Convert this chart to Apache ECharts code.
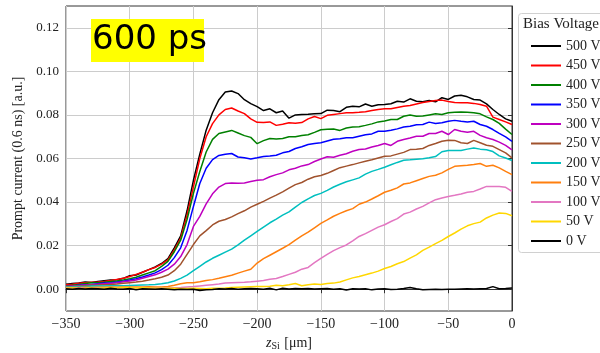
<!DOCTYPE html>
<html>
<head>
<meta charset="utf-8">
<script src="https://cdn.jsdelivr.net/npm/echarts@6/dist/echarts.min.js"></script>
<style>
html,body{margin:0;padding:0;background:#fff;}
#c{width:600px;height:353px;}
</style>
</head>
<body>
<div id="c"></div>
<script>
const z = [-350,-345,-340,-335,-330,-325,-320,-315,-310,-305,
  -300,-295,-290,-285,-280,-275,-270,-265,-260,-255,
  -250,-245,-240,-235,-230,-225,-220,-215,-210,-205,
  -200,-195,-190,-185,-180,-175,-170,-165,-160,-155,
  -150,-145,-140,-135,-130,-125,-120,-115,-110,-105,
  -100,-95,-90,-85,-80,-75,-70,-65,-60,-55,
  -50,-45,-40,-35,-30,-25,-20,-15,-10,-5,0];

const v500 = [0.0023,0.0026,0.0029,0.0033,0.0031,0.0035,0.0039,0.0042,0.0043,0.0050,
  0.0062,0.0065,0.0078,0.0090,0.0102,0.0118,0.0140,0.0190,0.0245,0.0360,
  0.0500,0.0620,0.0730,0.0810,0.0870,0.0905,0.0910,0.0898,0.0870,0.0852,
  0.0838,0.0820,0.0828,0.0810,0.0818,0.0785,0.0800,0.0802,0.0803,0.0805,
  0.0806,0.0822,0.0820,0.0815,0.0835,0.0840,0.0837,0.0850,0.0840,0.0847,
  0.0848,0.0851,0.0863,0.0859,0.0874,0.0863,0.0860,0.0866,0.0860,0.0879,
  0.0871,0.0887,0.0890,0.0883,0.0871,0.0868,0.0851,0.0825,0.0802,0.0782,0.0771];
const v450 = [0.0020,0.0023,0.0027,0.0030,0.0032,0.0033,0.0036,0.0040,0.0045,0.0050,
  0.0058,0.0068,0.0078,0.0090,0.0100,0.0115,0.0135,0.0180,0.0235,0.0340,
  0.0470,0.0600,0.0700,0.0760,0.0800,0.0825,0.0832,0.0818,0.0806,0.0782,
  0.0766,0.0765,0.0768,0.0752,0.0757,0.0764,0.0762,0.0765,0.0782,0.0793,
  0.0783,0.0798,0.0802,0.0806,0.0810,0.0810,0.0812,0.0815,0.0820,0.0825,
  0.0828,0.0828,0.0834,0.0840,0.0843,0.0850,0.0857,0.0862,0.0866,0.0868,
  0.0862,0.0857,0.0856,0.0856,0.0853,0.0848,0.0840,0.0790,0.0779,0.0768,0.0756];
const v400 = [0.0015,0.0018,0.0022,0.0026,0.0030,0.0030,0.0032,0.0035,0.0038,0.0042,
  0.0048,0.0055,0.0065,0.0075,0.0085,0.0105,0.0128,0.0172,0.0225,0.0320,
  0.0440,0.0540,0.0630,0.0688,0.0715,0.0722,0.0729,0.0717,0.0705,0.0697,
  0.0668,0.0682,0.0692,0.0690,0.0692,0.0700,0.0700,0.0706,0.0709,0.0720,
  0.0732,0.0734,0.0735,0.0729,0.0740,0.0745,0.0746,0.0752,0.0759,0.0768,
  0.0772,0.0779,0.0779,0.0794,0.0800,0.0794,0.0795,0.0800,0.0805,0.0802,
  0.0810,0.0812,0.0814,0.0812,0.0810,0.0805,0.0791,0.0779,0.0761,0.0735,0.0710];
const v350 = [0.0012,0.0015,0.0018,0.0020,0.0022,0.0025,0.0028,0.0030,0.0033,0.0037,
  0.0042,0.0048,0.0056,0.0065,0.0075,0.0090,0.0110,0.0145,0.0190,0.0270,
  0.0380,0.0485,0.0555,0.0595,0.0614,0.0620,0.0623,0.0607,0.0603,0.0598,
  0.0603,0.0609,0.0611,0.0615,0.0626,0.0632,0.0646,0.0654,0.0664,0.0669,
  0.0672,0.0680,0.0688,0.0691,0.0695,0.0695,0.0702,0.0709,0.0713,0.0725,
  0.0725,0.0730,0.0736,0.0745,0.0748,0.0755,0.0756,0.0767,0.0761,0.0764,
  0.0771,0.0775,0.0771,0.0768,0.0771,0.0756,0.0748,0.0733,0.0715,0.0699,0.0679];
const v300 = [0.0013,0.0015,0.0017,0.0019,0.0021,0.0023,0.0025,0.0027,0.0030,0.0034,
  0.0038,0.0042,0.0050,0.0058,0.0066,0.0078,0.0092,0.0115,0.0150,0.0205,
  0.0288,0.0334,0.0392,0.0438,0.0469,0.0485,0.0488,0.0486,0.0488,0.0494,
  0.0500,0.0503,0.0516,0.0526,0.0534,0.0548,0.0555,0.0566,0.0572,0.0586,
  0.0598,0.0608,0.0606,0.0615,0.0622,0.0633,0.0641,0.0644,0.0653,0.0660,
  0.0669,0.0660,0.0679,0.0687,0.0694,0.0702,0.0702,0.0715,0.0715,0.0725,
  0.0710,0.0733,0.0725,0.0721,0.0725,0.0706,0.0695,0.0687,0.0675,0.0660,0.0640];
const v250 = [0.0012,0.0013,0.0015,0.0016,0.0018,0.0019,0.0021,0.0022,0.0024,0.0027,
  0.0030,0.0033,0.0037,0.0042,0.0048,0.0055,0.0065,0.0085,0.0115,0.0160,
  0.0205,0.0245,0.0269,0.0295,0.0312,0.0320,0.0332,0.0347,0.0360,0.0377,
  0.0390,0.0403,0.0418,0.0432,0.0447,0.0464,0.0480,0.0490,0.0505,0.0516,
  0.0522,0.0532,0.0545,0.0558,0.0565,0.0572,0.0580,0.0587,0.0594,0.0602,
  0.0610,0.0612,0.0620,0.0628,0.0641,0.0643,0.0646,0.0660,0.0669,0.0679,
  0.0684,0.0683,0.0672,0.0669,0.0683,0.0672,0.0661,0.0656,0.0641,0.0626,0.0603];
const v200 = [0.0010,0.0011,0.0012,0.0013,0.0015,0.0015,0.0015,0.0016,0.0016,0.0016,
  0.0017,0.0018,0.0019,0.0020,0.0022,0.0025,0.0030,0.0038,0.0050,0.0065,
  0.0085,0.0105,0.0125,0.0142,0.0156,0.0170,0.0184,0.0204,0.0225,0.0245,
  0.0265,0.0285,0.0305,0.0322,0.0340,0.0355,0.0377,0.0398,0.0415,0.0430,
  0.0440,0.0454,0.0469,0.0482,0.0493,0.0502,0.0511,0.0528,0.0541,0.0550,
  0.0560,0.0571,0.0582,0.0592,0.0594,0.0597,0.0599,0.0603,0.0609,0.0631,
  0.0637,0.0637,0.0637,0.0643,0.0648,0.0643,0.0640,0.0632,0.0612,0.0602,0.0591];
const v150 = [0.0008,0.0008,0.0008,0.0009,0.0008,0.0009,0.0009,0.0010,0.0009,0.0010,
  0.0010,0.0010,0.0010,0.0011,0.0010,0.0010,0.0012,0.0018,0.0025,0.0030,
  0.0030,0.0034,0.0040,0.0044,0.0050,0.0057,0.0064,0.0074,0.0083,0.0092,
  0.0120,0.0140,0.0156,0.0172,0.0188,0.0205,0.0225,0.0245,0.0262,0.0282,
  0.0302,0.0318,0.0335,0.0348,0.0360,0.0370,0.0390,0.0400,0.0414,0.0429,
  0.0445,0.0454,0.0465,0.0483,0.0488,0.0498,0.0508,0.0518,0.0523,0.0534,
  0.0550,0.0564,0.0567,0.0569,0.0572,0.0577,0.0564,0.0569,0.0557,0.0541,0.0526];
const v100 = [0.0005,0.0005,0.0006,0.0005,0.0005,0.0006,0.0005,0.0005,0.0006,0.0005,
  0.0005,0.0005,0.0005,0.0005,0.0005,0.0005,0.0006,0.0007,0.0008,0.0010,
  0.0012,0.0015,0.0018,0.0021,0.0024,0.0028,0.0030,0.0031,0.0032,0.0034,
  0.0037,0.0040,0.0046,0.0049,0.0058,0.0068,0.0078,0.0092,0.0100,0.0122,
  0.0142,0.0160,0.0177,0.0191,0.0203,0.0222,0.0242,0.0255,0.0270,0.0285,
  0.0296,0.0311,0.0324,0.0345,0.0354,0.0368,0.0380,0.0396,0.0411,0.0419,
  0.0426,0.0431,0.0437,0.0445,0.0449,0.0460,0.0472,0.0472,0.0472,0.0468,0.0449];
const v50 = [0.0005,0.0006,0.0003,0.0004,0.0006,0.0005,0.0006,0.0007,0.0006,0.0008,
  0.0007,0.0006,0.0007,0.0006,0.0005,0.0004,0.0005,0.0004,0.0003,0.0003,
  0.0004,0.0003,0.0002,0.0004,0.0005,0.0006,0.0008,0.0009,0.0010,0.0011,
  0.0012,0.0013,0.0014,0.0018,0.0016,0.0020,0.0026,0.0016,0.0020,0.0024,
  0.0022,0.0026,0.0028,0.0033,0.0043,0.0052,0.0058,0.0066,0.0074,0.0083,
  0.0095,0.0104,0.0117,0.0127,0.0143,0.0158,0.0178,0.0193,0.0209,0.0224,
  0.0242,0.0258,0.0276,0.0291,0.0301,0.0308,0.0327,0.0340,0.0350,0.0348,0.0337];
const v0 = [0.0002,0.0000,0.0003,0.0001,0.0003,0.0002,0.0000,0.0004,0.0001,0.0000,
  0.0003,-0.0003,0.0002,0.0001,0.0000,0.0002,0.0000,-0.0002,0.0000,-0.0001,
  0.0000,-0.0006,-0.0002,-0.0001,0.0002,0.0001,0.0003,0.0000,0.0002,0.0003,
  0.0002,0.0000,0.0004,-0.0003,0.0004,0.0001,0.0003,0.0002,0.0003,0.0001,
  0.0002,0.0003,0.0000,0.0002,-0.0004,0.0002,0.0001,0.0002,-0.0003,0.0001,
  0.0002,-0.0001,0.0000,0.0003,0.0008,0.0002,-0.0002,-0.0001,0.0000,-0.0001,
  0.0000,0.0000,0.0001,0.0002,0.0001,0.0002,0.0003,0.0012,0.0002,0.0003,0.0006];

const seriesNames = ['500 V','450 V','400 V','350 V','300 V','250 V','200 V','150 V','100 V','50 V','0 V'];
const seriesValues = [v500,v450,v400,v350,v300,v250,v200,v150,v100,v50,v0];
const seriesColors = ['#000000','#ff0000','#008000','#0000ff','#bf00bf','#a0522d','#00bfbf','#ff7f0e','#e377c2','#ffd700','#000000'];
const yTicks = [0.00,0.02,0.04,0.06,0.08,0.10,0.12];
const xTicks = [-350,-300,-250,-200,-150,-100,-50,0];

const SERIF = '"Liberation Serif","DejaVu Serif",serif';
const chart = echarts.init(document.getElementById('c'), null, {renderer:'canvas'});

const fmtX = v => v < 0 ? '\u2212' + Math.abs(v) : String(v);

const option = {
  animation:false,
  backgroundColor:'#ffffff',
  grid:{left:66,right:88,top:6,bottom:42,show:true,borderColor:'#333',borderWidth:1,
        backgroundColor:'transparent',containLabel:false,outerBoundsMode:'none'},
  xAxis:{type:'value',min:-350,max:0,interval:50,
    name:'{i|z}{s|Si} [\u03bcm]',nameLocation:'middle',nameGap:23,
    nameTextStyle:{fontFamily:SERIF,fontSize:14,color:'#222',
      rich:{i:{fontFamily:SERIF,fontStyle:'italic',fontSize:14,color:'#222'},
            s:{fontFamily:SERIF,fontSize:10,color:'#222',padding:[6,1,0,0]}}},
    axisLine:{show:true,lineStyle:{color:'#333',width:1}},
    axisTick:{show:true,inside:false,length:4,lineStyle:{color:'#333',width:1},customValues:xTicks},
    axisLabel:{formatter:fmtX,fontFamily:SERIF,fontSize:14,color:'#222',margin:6,customValues:xTicks},
    splitLine:{show:true,lineStyle:{color:'#cccccc',width:1}}
  },
  yAxis:{type:'value',min:-0.01,max:0.13,interval:0.01,
    name:'Prompt current (0.6 ns) [a.u.]',nameLocation:'middle',nameGap:37,
    nameTextStyle:{fontFamily:SERIF,fontSize:14,color:'#222'},
    axisLine:{show:true,lineStyle:{color:'#333',width:1}},
    axisTick:{show:true,inside:false,length:4,lineStyle:{color:'#333',width:1},customValues:yTicks},
    axisLabel:{formatter:v=>v.toFixed(2),fontFamily:SERIF,fontSize:13,color:'#222',margin:7,customValues:yTicks},
    splitLine:{show:true,lineStyle:{color:'#cccccc',width:1}}
  },
  legend:{orient:'vertical',left:526,top:34,itemWidth:30,itemHeight:2,itemGap:5.5,icon:'rect',
    textStyle:{fontFamily:SERIF,fontSize:14,color:'#222',lineHeight:14},
    data:seriesNames},
  graphic:[
    {type:'rect',left:518,top:13,z:0,shape:{width:100,height:239,r:3},
     style:{fill:'#ffffff',stroke:'#d0d0d0',lineWidth:1}},
    {type:'text',left:523,top:17,z:1,style:{text:'Bias Voltage',font:'15px '+SERIF,fill:'#222'}},
    {type:'rect',left:91,top:19,z:10,shape:{width:113,height:43},style:{fill:'#ffff00'}},
    {type:'text',left:92,top:23,z:11,style:{text:'600 ps',font:'34px "DejaVu Sans",sans-serif',fill:'#000'}}
  ],
  series: seriesNames.map((n,i)=>({
    name:n,type:'line',showSymbol:false,symbol:'none',
    data: z.map((x,j)=>[x, seriesValues[i][j]]),
    lineStyle:{color:seriesColors[i],width:1.5},
    itemStyle:{color:seriesColors[i]},
    z:2+i
  }))
};
chart.setOption(option);
</script>
</body>
</html>
